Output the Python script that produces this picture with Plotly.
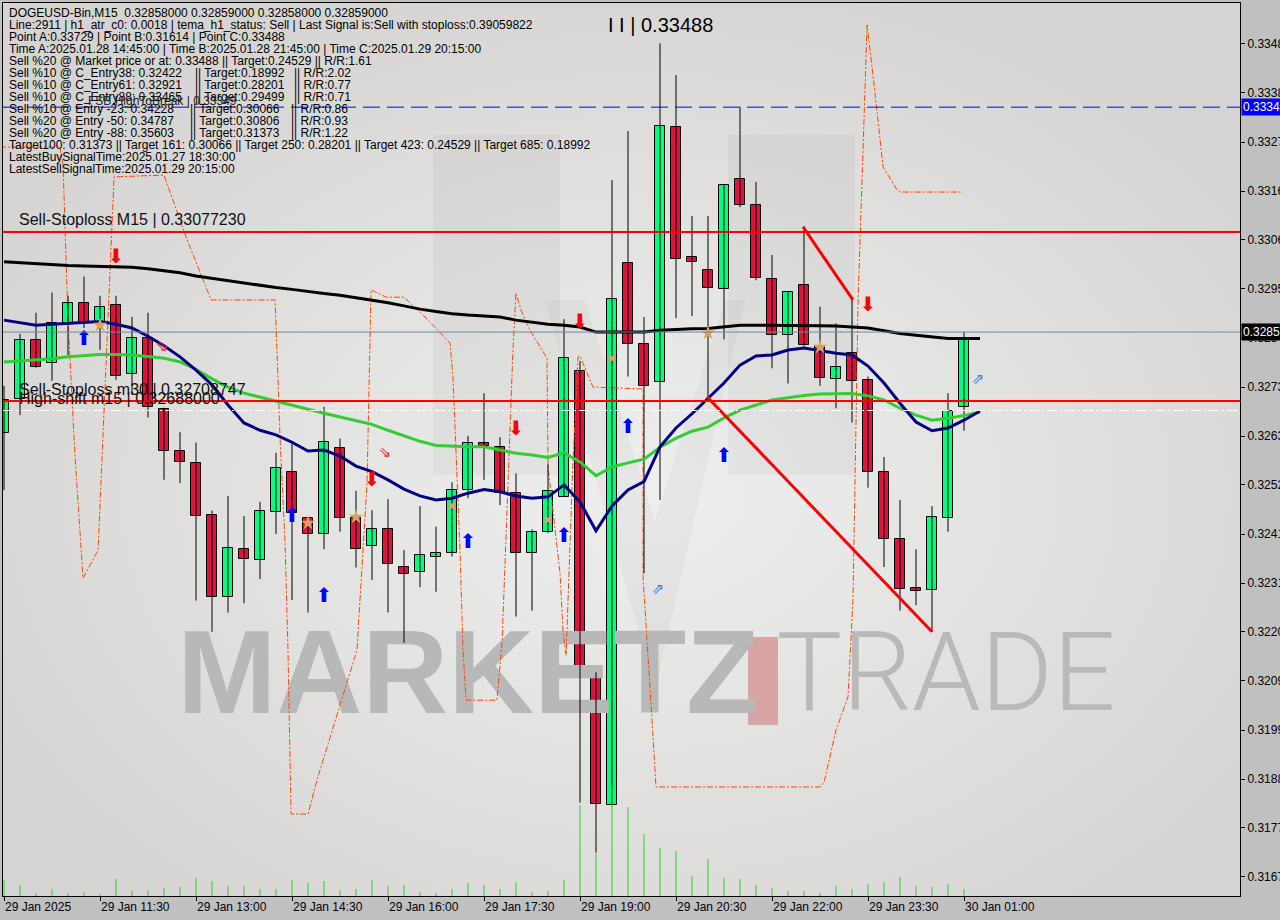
import base64
import plotly.graph_objects as go

# ------------------------------------------------------------------ data
x_tick_bars = [0, 6, 12, 18, 24, 30, 36, 42, 48, 54, 60]
x_tick_labels = ["29 Jan 2025", "29 Jan 11:30", "29 Jan 13:00", "29 Jan 14:30", "29 Jan 16:00",
                 "29 Jan 17:30", "29 Jan 19:00", "29 Jan 20:30", "29 Jan 22:00", "29 Jan 23:30",
                 "30 Jan 01:00"]
y_tick_labels = ["0.31672", "0.31779", "0.31885", "0.31992", "0.32099", "0.32206", "0.32312",
                 "0.32419", "0.32526", "0.32632", "0.32739", "0.32846", "0.32953", "0.33060",
                 "0.33166", "0.33273", "0.33380", "0.33487"]

opens = [0.32640, 0.32713, 0.32842, 0.32792, 0.32879, 0.32922, 0.32879, 0.32917, 0.32767, 0.32847,
         0.32692, 0.32599, 0.32573, 0.32460, 0.32281, 0.32386, 0.32362, 0.32468, 0.32554, 0.32455,
         0.32420, 0.32606, 0.32455, 0.32393, 0.32429, 0.32347, 0.32336, 0.32368, 0.32377, 0.32515,
         0.32618, 0.32609, 0.32508, 0.32377, 0.32424, 0.32500, 0.32775, 0.32111, 0.31828, 0.33009,
         0.32834, 0.32750, 0.33306, 0.33023, 0.32994, 0.32952, 0.33192, 0.33136, 0.32974, 0.32852,
         0.32961, 0.32828, 0.32756, 0.32813, 0.32755, 0.32555, 0.32408, 0.32301, 0.32297, 0.32455,
         0.32696]
highs = [0.32742, 0.32855, 0.32901, 0.32945, 0.32938, 0.32980, 0.32938, 0.32938, 0.32892, 0.32901,
         0.32694, 0.32641, 0.32618, 0.32470, 0.32502, 0.32458, 0.32489, 0.32596, 0.32617, 0.32456,
         0.32696, 0.32627, 0.32513, 0.32471, 0.32495, 0.32384, 0.32480, 0.32435, 0.32532, 0.32633,
         0.32726, 0.32630, 0.32551, 0.32429, 0.32571, 0.32887, 0.32796, 0.32118, 0.33190, 0.33297,
         0.32892, 0.33488, 0.33419, 0.33112, 0.33112, 0.33180, 0.33349, 0.33186, 0.33027, 0.32947,
         0.33089, 0.32914, 0.32878, 0.32929, 0.32762, 0.32587, 0.32493, 0.32386, 0.32480, 0.32726,
         0.32859]
lows = [0.32515, 0.32678, 0.32781, 0.32753, 0.32809, 0.32868, 0.32820, 0.32755, 0.32722, 0.32673,
        0.32537, 0.32530, 0.32274, 0.32206, 0.32248, 0.32268, 0.32321, 0.32419, 0.32275, 0.32248,
        0.32386, 0.32424, 0.32346, 0.32319, 0.32248, 0.32182, 0.32303, 0.32293, 0.32370, 0.32497,
        0.32537, 0.32482, 0.32239, 0.32252, 0.32421, 0.32500, 0.31834, 0.31725, 0.31828, 0.32762,
        0.32333, 0.32493, 0.32889, 0.32894, 0.32718, 0.32843, 0.33131, 0.32972, 0.32780, 0.32747,
        0.32828, 0.32742, 0.32693, 0.32662, 0.32520, 0.32347, 0.32252, 0.32264, 0.32206, 0.32424,
        0.32644]
closes = [0.32711, 0.32842, 0.32783, 0.32879, 0.32922, 0.32879, 0.32914, 0.32764, 0.32847, 0.32695,
          0.32600, 0.32575, 0.32459, 0.32281, 0.32388, 0.32364, 0.32469, 0.32562, 0.32464, 0.32420,
          0.32619, 0.32455, 0.32386, 0.32429, 0.32354, 0.32332, 0.32373, 0.32377, 0.32515, 0.32617,
          0.32611, 0.32508, 0.32377, 0.32424, 0.32512, 0.32802, 0.32126, 0.31830, 0.32930, 0.32834,
          0.32742, 0.33308, 0.33018, 0.33011, 0.32954, 0.33179, 0.33135, 0.32976, 0.32852, 0.32946,
          0.32830, 0.32760, 0.32782, 0.32752, 0.32555, 0.32408, 0.32299, 0.32295, 0.32457, 0.32686,
          0.32843]
volumes = [1600, 1100, 300, 700, 300, 400, 200, 1700, 500, 600,
           800, 900, 1800, 1500, 1000, 1000, 700, 700, 1600, 1300,
           1500, 600, 700, 1600, 1000, 1100, 400, 300, 700, 1300,
           1100, 700, 1400, 400, 500, 1600, 9100, 4300, 11100, 8900,
           6200, 4800, 4500, 2000, 3700, 1800, 1700, 1100, 800, 500,
           500, 300, 1000, 700, 1200, 1400, 1900, 1000, 900, 1200, 700]

ma_black = [0.33012, 0.33010, 0.33007, 0.33005, 0.33004, 0.33003, 0.33002, 0.33001, 0.33000, 0.32997,
            0.32993, 0.32988, 0.32981, 0.32976, 0.32970, 0.32965, 0.32960, 0.32956, 0.32952, 0.32947,
            0.32943, 0.32939, 0.32934, 0.32929, 0.32923, 0.32916, 0.32909, 0.32904, 0.32899, 0.32896,
            0.32894, 0.32892, 0.32885, 0.32880, 0.32876, 0.32874, 0.32870, 0.32859, 0.32859, 0.32859,
            0.32859, 0.32863, 0.32865, 0.32866, 0.32867, 0.32871, 0.32874, 0.32874, 0.32874, 0.32874,
            0.32873, 0.32873, 0.32872, 0.32870, 0.32868, 0.32862, 0.32856, 0.32852, 0.32848, 0.32845,
            0.32845, 0.32845]
ma_navy = [0.32885, 0.32879, 0.32874, 0.32876, 0.32878, 0.32880, 0.32882, 0.32876, 0.32868, 0.32850,
           0.32829, 0.32805, 0.32776, 0.32744, 0.32700, 0.32661, 0.32645, 0.32635, 0.32619, 0.32600,
           0.32602, 0.32589, 0.32567, 0.32555, 0.32537, 0.32517, 0.32502, 0.32493, 0.32497, 0.32508,
           0.32516, 0.32511, 0.32502, 0.32497, 0.32500, 0.32526, 0.32489, 0.32426, 0.32480, 0.32515,
           0.32533, 0.32609, 0.32650, 0.32681, 0.32715, 0.32748, 0.32787, 0.32807, 0.32809, 0.32820,
           0.32824, 0.32818, 0.32813, 0.32809, 0.32785, 0.32748, 0.32704, 0.32663, 0.32644, 0.32650,
           0.32667, 0.32687]
ma_green = [0.32794, 0.32796, 0.32798, 0.32801, 0.32805, 0.32807, 0.32810, 0.32810, 0.32809, 0.32806,
            0.32802, 0.32794, 0.32778, 0.32757, 0.32739, 0.32726, 0.32717, 0.32708, 0.32700, 0.32690,
            0.32682, 0.32674, 0.32666, 0.32658, 0.32645, 0.32633, 0.32621, 0.32612, 0.32610, 0.32609,
            0.32609, 0.32602, 0.32595, 0.32591, 0.32586, 0.32596, 0.32576, 0.32546, 0.32565, 0.32574,
            0.32582, 0.32608, 0.32628, 0.32643, 0.32652, 0.32672, 0.32689, 0.32700, 0.32711, 0.32716,
            0.32721, 0.32724, 0.32725, 0.32725, 0.32720, 0.32711, 0.32693, 0.32678, 0.32667, 0.32671,
            0.32677, 0.32685]

orange_bar = [-0.25, 3.5, 3.69, 4.0, 4.44, 4.94, 5.88, 6.5, 6.88, 10.0, 11.38, 12.94, 16.94, 17.06,
              17.25, 17.56, 17.75, 17.94, 19.0, 19.56, 22.06, 22.69, 22.94, 22.94, 23.88, 25.0, 26.31,
              27.88, 28.06, 28.5, 28.69, 28.88, 30.81, 31.13, 31.81, 32.0, 32.31, 32.88, 33.94, 34.0,
              34.75, 34.94, 35.13, 35.56, 35.88, 36.0, 36.81, 39.94, 39.94, 40.25, 40.5, 40.75, 51.0,
              51.25, 52.0, 52.75, 53.06, 53.19, 53.38, 53.69, 53.94, 54.31, 54.75, 54.94, 55.81, 56.0,
              59.94]
orange_price = [0.33262, 0.33262, 0.33223, 0.32885, 0.32587, 0.32323, 0.32384, 0.32885, 0.33197,
                0.33201, 0.33066, 0.32929, 0.32929, 0.32820, 0.32630, 0.32406, 0.32166, 0.31809,
                0.31809, 0.31883, 0.32166, 0.32530, 0.32885, 0.32951, 0.32935, 0.32935, 0.32892,
                0.32835, 0.32761, 0.32384, 0.32166, 0.32057, 0.32057, 0.32182, 0.32820, 0.32944,
                0.32907, 0.32863, 0.32802, 0.32565, 0.32334, 0.32206, 0.32155, 0.32574, 0.32805,
                0.32807, 0.32739, 0.32735, 0.32325, 0.32166, 0.32014, 0.31868, 0.31868, 0.31877,
                0.31992, 0.32064, 0.32275, 0.32537, 0.32929, 0.33256, 0.33528, 0.33419, 0.33284,
                0.33219, 0.33169, 0.33164, 0.33164]

trend1_bar = [49.94, 53.06]
trend1_price = [0.33088, 0.32929]
trend2_bar = [43.94, 58.0]
trend2_price = [0.32718, 0.32206]

sell_sl_m15 = 0.33077230
sell_sl_m30 = 0.32708747
high_shift_m15 = 0.32688000
fsb_high = 0.33349
last_price = 0.32859
point_c_bar = 41
point_c = 0.33488

red_down_bar = [7, 23, 32, 36, 54]
red_down_price = [0.33020, 0.32534, 0.32645, 0.32878, 0.32916]
blue_up_bar = [5, 18, 20, 29, 35, 39, 45]
blue_up_price = [0.32842, 0.32456, 0.32282, 0.32400, 0.32413, 0.32650, 0.32587]
star_bar = [6, 19, 22, 44, 51]
star_price = [0.32874, 0.32443, 0.32456, 0.32857, 0.32826]
cross_bar = [28, 34, 38]
cross_price = [0.32480, 0.32450, 0.32802]
hollow_red_bar = [9.875, 23.81]
hollow_red_price = [0.32826, 0.32595]
hollow_blue_bar = [40.875, 60.875]
hollow_blue_price = [0.32297, 0.32755]

info_lines = [
    "DOGEUSD-Bin,M15  0.32858000 0.32859000 0.32858000 0.32859000",
    "Line:2911 | h1_atr_c0: 0.0018 | tema_h1_status: Sell | Last Signal is:Sell with stoploss:0.39059822",
    "Point A:0.33729 | Point B:0.31614 | Point C:0.33488",
    "Time A:2025.01.28 14:45:00 | Time B:2025.01.28 21:45:00 | Time C:2025.01.29 20:15:00",
    "Sell %20 @ Market price or at: 0.33488 || Target:0.24529 || R/R:1.61",
]
entry_lines = [
    ("Sell %10 @ C_Entry38: 0.32422", "|| Target:0.18992", "|| R/R:2.02"),
    ("Sell %10 @ C_Entry61: 0.32921", "|| Target:0.28201", "|| R/R:0.77"),
    ("Sell %10 @ C_Entry88: 0.33465", "|| Target:0.29499", "|| R/R:0.71"),
    ("Sell %10 @ Entry -23: 0.34228", "|| Target:0.30066", "|| R/R:0.86"),
    ("Sell %20 @ Entry -50: 0.34787", "|| Target:0.30806", "|| R/R:0.93"),
    ("Sell %20 @ Entry -88: 0.35603", "|| Target:0.31373", "|| R/R:1.22"),
]
tail_lines = [
    "Target100: 0.31373 || Target 161: 0.30066 || Target 250: 0.28201 || Target 423: 0.24529 || Target 685: 0.18992",
    "LatestBuySignalTime:2025.01.27 18:30:00",
    "LatestSellSignalTime:2025.01.29 20:15:00",
]

# ------------------------------------------------------------------ geometry helpers
W, H = 1280, 920
PL, PT, PW, PH = 3, 3, 1237, 893
X0, X1 = -0.0625, 77.25
Y0, Y1 = 0.316304, 0.335759


def px_x(px):
    return X0 + (px - PL) / PW * (X1 - X0)


def px_y(py):
    return Y1 - (py - PT) / PH * (Y1 - Y0)


def paper_x(px):
    return (px - PL) / PW


def paper_y(py):
    return 1 - (py - PT) / PH


FONT = "Liberation Sans, Arial, sans-serif"
fig = go.Figure()

# watermark (under everything)
fig.add_trace(go.Scatter(x=[px_x(468)], y=[px_y(683)], mode="text", text=["MARKETZ"],
                         textfont=dict(family=FONT, size=119, color="#b8b8b8", weight="bold"),
                         hoverinfo="skip"))
fig.add_trace(go.Scatter(x=[px_x(946)], y=[px_y(682)], mode="text", text=["TRADE"],
                         textfont=dict(family="Roboto, Liberation Sans", size=110, color="#b9b9b9",
                                       weight=300),
                         hoverinfo="skip"))

# volumes
vx, vy = [], []
for i, v in enumerate(volumes):
    vx += [i, i, None]
    vy += [0, v, None]
fig.add_trace(go.Scatter(x=vx, y=vy, mode="lines", line=dict(color="#32cd32", width=1),
                         yaxis="y2", hoverinfo="skip"))

# orange indicator line
fig.add_trace(go.Scatter(x=orange_bar, y=orange_price, mode="lines",
                         line=dict(color="#ff4500", width=1, dash="6px,2px,2px,2px"),
                         hoverinfo="skip"))

# candles
idx = list(range(len(opens)))
wx, wy = [], []
for i in idx:
    wx += [i, i, None]
    wy += [lows[i], highs[i], None]
fig.add_trace(go.Scatter(x=wx, y=wy, mode="lines", line=dict(color="black", width=1),
                         hoverinfo="skip"))
base = [min(o, c) for o, c in zip(opens, closes)]
height = [max(abs(c - o), 0.00004) for o, c in zip(opens, closes)]
cols = ["#00ff7f" if c >= o else "#dc143c" for o, c in zip(opens, closes)]
fig.add_trace(go.Bar(x=idx, y=height, base=base, width=0.6, marker=dict(color=cols,
                     line=dict(color="black", width=1)), hoverinfo="skip"))

# moving averages
ma_x = list(range(len(ma_black)))
fig.add_trace(go.Scatter(x=ma_x, y=ma_green, mode="lines", line=dict(color="#32cd32", width=3),
                         hoverinfo="skip"))
fig.add_trace(go.Scatter(x=ma_x, y=ma_navy, mode="lines", line=dict(color="#000080", width=3),
                         hoverinfo="skip"))
fig.add_trace(go.Scatter(x=ma_x, y=ma_black, mode="lines", line=dict(color="black", width=3),
                         hoverinfo="skip"))

# trend lines
for tb, tp in ((trend1_bar, trend1_price), (trend2_bar, trend2_price)):
    fig.add_trace(go.Scatter(x=tb, y=tp, mode="lines", line=dict(color="#ff0000", width=3),
                             hoverinfo="skip"))

# signal markers
fig.add_trace(go.Scatter(x=red_down_bar, y=red_down_price, mode="text", text=["⬇"] * len(red_down_bar),
                         textfont=dict(family="DejaVu Sans", size=20, color="#ff0000"), hoverinfo="skip"))
fig.add_trace(go.Scatter(x=blue_up_bar, y=blue_up_price, mode="text", text=["⬆"] * len(blue_up_bar),
                         textfont=dict(family="DejaVu Sans", size=20, color="#0000ff"), hoverinfo="skip"))
fig.add_trace(go.Scatter(x=hollow_red_bar, y=hollow_red_price, mode="text", text=["⇘"] * 2,
                         textfont=dict(family="DejaVu Sans", size=15, color="#ff2020"), hoverinfo="skip"))
fig.add_trace(go.Scatter(x=hollow_blue_bar, y=hollow_blue_price, mode="text", text=["⇗"] * 2,
                         textfont=dict(family="DejaVu Sans", size=15, color="#3080ff"), hoverinfo="skip"))
fig.add_trace(go.Scatter(x=star_bar, y=star_price, mode="markers",
                         marker=dict(symbol="star", size=11, color="#d9a35f"), hoverinfo="skip"))
fig.add_trace(go.Scatter(x=cross_bar, y=cross_price, mode="markers",
                         marker=dict(symbol="x", size=7, color="#dca070"), hoverinfo="skip"))

# ------------------------------------------------------------------ level lines
shapes = [
    dict(type="rect", xref="x", yref="y", x0=px_x(748), x1=px_x(778), y0=px_y(725), y1=px_y(637),
         fillcolor="#d9a4a4", line=dict(width=0), layer="below"),
    dict(type="line", xref="paper", x0=0, x1=1, yref="y", y0=last_price, y1=last_price,
         line=dict(color="#778899", width=1), layer="above"),
    dict(type="line", xref="paper", x0=0, x1=1, yref="y", y0=sell_sl_m15, y1=sell_sl_m15,
         line=dict(color="#ff0000", width=2), layer="above"),
    dict(type="line", xref="paper", x0=0, x1=1, yref="y", y0=sell_sl_m30, y1=sell_sl_m30,
         line=dict(color="#ff0000", width=2), layer="above"),
    dict(type="line", xref="paper", x0=0, x1=1, yref="y", y0=high_shift_m15, y1=high_shift_m15,
         line=dict(color="#ffffff", width=1, dash="10px,3px,2px,3px"), layer="above"),
    dict(type="line", xref="paper", x0=0, x1=1, yref="y", y0=fsb_high, y1=fsb_high,
         line=dict(color="#0000ff", width=1, dash="17px,7px"), layer="above"),
]

annotations = []
# info block
y_line = 12.7
for t in info_lines:
    annotations.append(dict(xref="paper", yref="paper", x=paper_x(7), y=paper_y(y_line), text=t,
                            xanchor="left", yanchor="middle", showarrow=False,
                            font=dict(family=FONT, size=12, color="black")))
    y_line += 12.06
for k, (a, b, c) in enumerate(entry_lines):
    cx = (193, 292) if k < 3 else (188, 289)
    for px, t in ((7, a), (cx[0], b), (cx[1], c)):
        annotations.append(dict(xref="paper", yref="paper", x=paper_x(px), y=paper_y(y_line), text=t,
                                xanchor="left", yanchor="middle", showarrow=False,
                                font=dict(family=FONT, size=12, color="black")))
    y_line += 12.06
for t in tail_lines:
    annotations.append(dict(xref="paper", yref="paper", x=paper_x(7), y=paper_y(y_line), text=t,
                            xanchor="left", yanchor="middle", showarrow=False,
                            font=dict(family=FONT, size=12, color="black")))
    y_line += 12.06

# level labels
annotations += [
    dict(xref="paper", yref="y", x=paper_x(17), y=sell_sl_m15, yshift=12,
         text=f"Sell-Stoploss M15 | {sell_sl_m15:.8f}", xanchor="left", yanchor="middle",
         showarrow=False, font=dict(family=FONT, size=16, color="#111111")),
    dict(xref="paper", yref="y", x=paper_x(17), y=sell_sl_m30, yshift=12,
         text=f"Sell-Stoploss m30 | {sell_sl_m30:.8f}", xanchor="left", yanchor="middle",
         showarrow=False, font=dict(family=FONT, size=16, color="#111111")),
    dict(xref="paper", yref="y", x=paper_x(17), y=high_shift_m15, yshift=12,
         text=f"High-shift m15 | {high_shift_m15:.8f}", xanchor="left", yanchor="middle",
         showarrow=False, font=dict(family=FONT, size=16, color="#111111")),
    dict(xref="paper", yref="y", x=paper_x(86), y=fsb_high, yshift=6,
         text=f"FSB HighToBreak | {fsb_high:.5f}", xanchor="left", yanchor="middle",
         showarrow=False, font=dict(family=FONT, size=12, color="#222222")),
    dict(xref="x", yref="y", x=point_c_bar, y=point_c, yshift=18,
         text=f"I I | {point_c:.5f}", xanchor="center", yanchor="middle",
         showarrow=False, font=dict(family=FONT, size=20, color="black")),
    dict(xref="paper", yref="y", x=1, y=fsb_high, xshift=1, text=f"{fsb_high:.5f}",
         xanchor="left", yanchor="middle", showarrow=False, bgcolor="#0000ff", borderpad=1,
         font=dict(family=FONT, size=12, color="white")),
    dict(xref="paper", yref="y", x=1, y=last_price, xshift=1, text=f"{last_price:.5f}",
         xanchor="left", yanchor="middle", showarrow=False, bgcolor="#000000", borderpad=1,
         font=dict(family=FONT, size=12, color="white")),
]

# ------------------------------------------------------------------ background gradient + faint logo
def sx(px):
    return px - PL


def sy(py):
    return py - PT


svg = ('<svg xmlns="http://www.w3.org/2000/svg" width="1237" height="893" viewBox="0 0 1237 893">'
       '<defs><radialGradient id="g" cx="0.52" cy="0.55" r="0.62">'
       '<stop offset="0" stop-color="#efefef"/><stop offset="1" stop-color="#d5d4d2"/>'
       '</radialGradient></defs><rect width="1237" height="893" fill="url(#g)"/>'
       f'<rect x="{sx(433)}" y="{sy(135)}" width="127" height="340" fill="rgba(0,0,0,0.035)"/>'
       f'<rect x="{sx(728)}" y="{sy(135)}" width="127" height="340" fill="rgba(0,0,0,0.035)"/>'
       f'<polygon points="{sx(545)},{sy(300)} {sx(585)},{sy(300)} {sx(655)},{sy(520)} '
       f'{sx(725)},{sy(300)} {sx(745)},{sy(300)} {sx(655)},{sy(690)}" fill="rgba(0,0,0,0.03)"/>'
       '</svg>')
bg_src = "data:image/svg+xml;base64," + base64.b64encode(svg.encode()).decode()

fig.update_layout(
    width=W, height=H,
    margin=dict(l=PL, r=W - PL - PW, t=PT, b=H - PT - PH, autoexpand=False),
    paper_bgcolor="#c0c0c0", plot_bgcolor="rgba(0,0,0,0)",
    showlegend=False, hovermode=False, bargap=0,
    images=[dict(source=bg_src, xref="paper", yref="paper", x=0, y=1, sizex=1, sizey=1,
                 sizing="stretch", xanchor="left", yanchor="top", layer="below")],
    shapes=shapes, annotations=annotations,
    xaxis=dict(range=[X0, X1], tickvals=x_tick_bars, ticktext=x_tick_labels, ticks="outside",
               ticklen=4, tickcolor="black", ticklabelposition="outside right", automargin=False,
               tickfont=dict(family=FONT, size=12, color="black"), showgrid=False, zeroline=False,
               showline=True, linecolor="black", linewidth=1, mirror=True, fixedrange=True),
    yaxis=dict(range=[Y0, Y1], side="right", tickvals=[float(s) for s in y_tick_labels],
               ticktext=y_tick_labels, ticks="outside", ticklen=4, tickcolor="black", automargin=False,
               tickfont=dict(family=FONT, size=12, color="black"), showgrid=False, zeroline=False,
               showline=True, linecolor="black", linewidth=1, mirror=True, fixedrange=True),
    yaxis2=dict(range=[0, 89300], overlaying="y", visible=False, fixedrange=True, automargin=False),
)

fig.write_html("out.html", config={"displayModeBar": False},
               post_script="document.body.style.margin='0';document.body.style.overflow='hidden';")
